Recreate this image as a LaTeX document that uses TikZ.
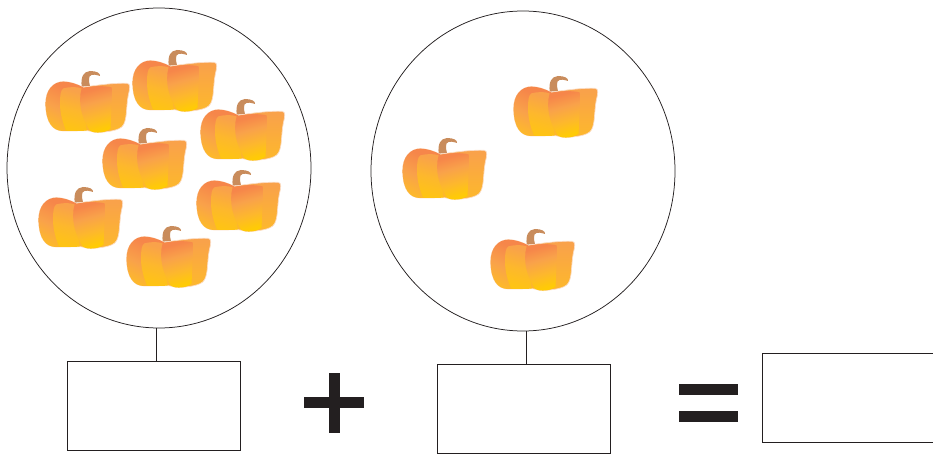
\documentclass[tikz,border=0pt]{standalone}
\usetikzlibrary{shapes.geometric,calc}
\definecolor{ink}{HTML}{231F20}
\definecolor{pkDeep}{HTML}{F6864A}
\definecolor{pkMid}{HTML}{F9A24A}
\definecolor{pkWarm}{HTML}{FDB82C}
\definecolor{pkYel}{HTML}{FFCB05}
\definecolor{pkStem}{HTML}{C98C5C}
\definecolor{pkHalo}{HTML}{FBDCC4}
\pgfdeclareverticalshading{pkright}{100bp}{color(0bp)=(pkWarm); color(25bp)=(pkWarm); color(45bp)=(pkWarm!60!pkMid); color(70bp)=(pkMid); color(100bp)=(pkMid)}
\pgfdeclareverticalshading{pkdeep}{100bp}{color(0bp)=(pkYel); color(25bp)=(pkWarm); color(45bp)=(pkMid); color(68bp)=(pkDeep); color(100bp)=(pkDeep)}
\pgfdeclareverticalshading{pkmid}{100bp}{color(0bp)=(pkYel); color(26bp)=(pkYel!60!pkWarm); color(48bp)=(pkWarm); color(72bp)=(pkMid); color(100bp)=(pkMid)}
\pgfdeclareverticalshading{pkfront}{100bp}{color(0bp)=(pkYel); color(27bp)=(pkYel); color(42bp)=(pkWarm); color(58bp)=(pkMid); color(72bp)=(pkDeep); color(100bp)=(pkDeep)}
\tikzset{
  ring/.style={draw=ink,ellipse,line width=0.75pt,minimum width=304pt,minimum height=320pt,inner sep=0pt},
  answer/.style={draw=ink,line width=0.75pt,minimum width=173pt,minimum height=89pt,inner sep=0pt},
  stick/.style={draw=ink,line width=0.75pt},
  signbar/.style={fill=ink},
  pumpkin/.pic={
    \begin{scope}[scale=0.33333]
      \fill[pkStem] (125,80) .. controls (122,50) and (130,35) .. (150,33)
        .. controls (170,33) and (182,40) .. (180,48)
        .. controls (170,45) and (155,40) .. (148,50)
        .. controls (145,60) and (148,70) .. (150,78) -- cycle;
      \path[draw=pkHalo,line width=0.7pt,shade,shading=pkright]
        (17,130) .. controls (17,90) and (40,65) .. (70,65)
        .. controls (90,65) and (110,72) .. (130,82)
        .. controls (170,75) and (230,68) .. (262,70)
        .. controls (272,72) and (270,85) .. (265,105)
        .. controls (258,140) and (262,175) .. (250,195)
        .. controls (240,213) and (200,215) .. (175,218)
        .. controls (160,218) and (150,212) .. (140,212)
        .. controls (110,213) and (90,213) .. (70,213)
        .. controls (40,213) and (17,190) .. (17,130) -- cycle;
      \path[shade,shading=pkdeep,shading angle=-25]
        (17,130) .. controls (17,90) and (40,65) .. (70,65)
        .. controls (90,65) and (110,72) .. (130,82)
        -- (130,212) .. controls (110,213) and (90,213) .. (70,213)
        .. controls (40,213) and (17,190) .. (17,130) -- cycle;
      \path[shade,shading=pkmid,shading angle=-15]
        (60,130) .. controls (60,105) and (62,90) .. (70,85)
        .. controls (90,80) and (110,80) .. (125,85)
        -- (140,212) .. controls (110,213) and (95,213) .. (78,212)
        .. controls (70,190) and (60,165) .. (60,130) -- cycle;
      \path[shade,shading=pkfront,shading angle=15]
        (125,85) .. controls (150,78) and (190,76) .. (215,82)
        .. controls (218,110) and (212,170) .. (212,205)
        .. controls (200,218) and (165,222) .. (150,212)
        .. controls (128,180) and (112,130) .. (125,85) -- cycle;
    \end{scope}
  }
}
\begin{document}
\begin{tikzpicture}[x=1pt,y=-1pt]
  \useasboundingbox (0,0) rectangle (933,454);
  \clip (0,0) rectangle (933,454);
  \node[ring] (c1) at (159,168) {};
  \node[ring] (c2) at (523,171) {};
  \node[answer] (b1) at (153.4,405.5) {};
  \node[answer] (b2) at (523.4,408.5) {};
  \node[answer,anchor=north west] (b3) at (761.7,352.8) {};
  \coordinate (t1) at ($(c1.south)+(-3,0)$);
  \coordinate (t2) at ($(c2.south)+(3,0)$);
  \draw[stick] (t1) -- (t1 |- b1.north);
  \draw[stick] (t2) -- (t2 |- b2.north);
  \foreach \px/\py in {40/60,127/39,195/88,97/117,33/176,191/159,121/215,397/127,508/65,485/218}
    \pic at (\px,\py) {pumpkin};
  \fill[signbar] (304,397) rectangle (364,408);
  \fill[signbar] (329,373) rectangle (339.5,433);
  \fill[signbar] (678.5,384) rectangle (738,394.5);
  \fill[signbar] (678.5,411) rectangle (738,421.5);
\end{tikzpicture}
\end{document}
